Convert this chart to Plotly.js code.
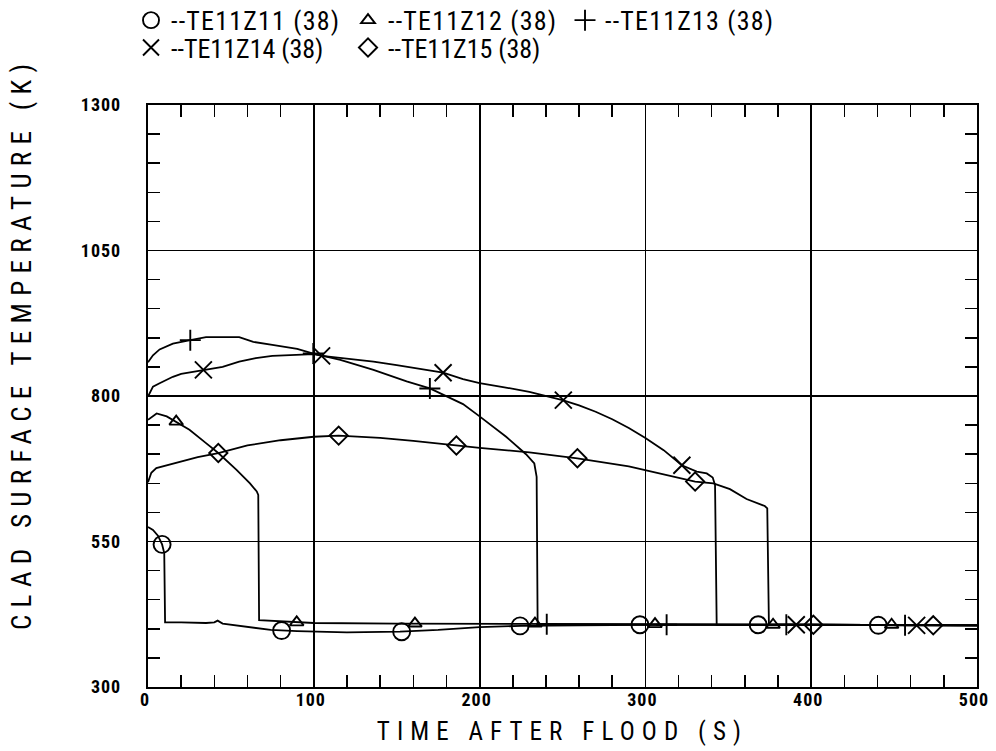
<!DOCTYPE html>
<html>
<head>
<meta charset="utf-8">
<script src="https://cdn.plot.ly/plotly-3.0.1.min.js"></script>
<style>
  body { margin: 0; background: #ffffff; }
  #chart { width: 996px; height: 751px; }
  .xtitle { letter-spacing: 7.1px; }
  .annotation-text { letter-spacing: 7.3px; }
  .xtick text, .ytick text { letter-spacing: 1px; }
  .legendtext { letter-spacing: 1.2px; }
</style>
</head>
<body>
<div id="chart"></div>
<script>
// ---- data ----
const seriesNames = ['--TE11Z11 (38)', '--TE11Z12 (38)', '--TE11Z13 (38)', '--TE11Z14 (38)', '--TE11Z15 (38)'];

const z11Time = [0, 3, 6, 8.5, 9.8, 10.3, 20, 35, 40, 42, 45, 60, 74, 90, 100, 120, 152, 175, 200, 225, 260, 300, 400, 500];
const z11Temp = [575, 570, 560, 545, 530, 411, 411, 410, 411, 414, 409, 403, 398, 396, 395, 394, 395, 398, 403, 405, 406, 407, 407, 406];
const z11MarkTime = [8.5, 80.6, 153, 224.4, 296.7, 368, 440.5];
const z11MarkTemp = [545, 397, 395, 405, 407, 407, 406];

const z12Time = [0, 5.2, 11.3, 17, 25, 35, 42.4, 53.4, 61.5, 65.6, 66.5, 67, 80, 100, 150, 200, 300, 400, 500];
const z12Temp = [759, 770, 765, 756, 742, 719, 702, 673, 650, 636, 630, 415, 413, 410, 409, 409, 408, 407, 406];
const z12MarkTime = [17, 89.7, 161, 233.4, 305.8, 377, 448.5];
const z12MarkTemp = [756, 411, 409, 409, 408, 407, 407];

const z13Time = [0, 3, 7, 15, 25.5, 35, 55, 63.5, 75, 90, 99.7, 116, 136, 156, 170, 182, 190, 200, 208, 216, 228, 233, 234.4, 235, 250, 300, 400, 500];
const z13Temp = [858, 870, 880, 890, 896, 901, 901, 893, 888, 881, 873, 862, 845, 825, 813, 796, 786, 765, 748, 730, 700, 684, 661, 408, 408, 407, 407, 406];
const z13MarkTime = [25.5, 99.7, 170, 240.5, 312.8, 385, 456.6];
const z13MarkTemp = [896, 873, 813, 408, 407, 407, 406];

const z14Time = [0, 3, 7, 15, 20, 33.4, 45, 55, 65, 75, 86, 100, 105, 120, 136, 150, 170, 178, 190, 200, 215, 230, 250, 260, 270, 280, 290, 300, 311, 322, 331, 337, 340.6, 342, 343, 360, 400, 500];
const z14Temp = [799, 816, 822, 833, 838, 845, 850, 859, 865, 869, 870, 872, 869, 864, 859, 853, 843, 840, 829, 822, 815, 807, 793, 784, 773, 760, 745, 728, 707, 681, 670, 667, 660, 647, 407, 407, 407, 406];
const z14MarkTime = [33.4, 104.7, 178, 250.5, 322, 391, 463.6];
const z14MarkTemp = [845, 869, 840, 793, 681, 407, 406];

const z15Time = [0, 2, 5, 10, 20, 30, 42.4, 60, 80, 100, 115, 140, 160, 186, 200, 230, 259, 290, 315, 330, 341, 351, 361, 372, 373.5, 374.5, 400, 500];
const z15Temp = [652, 668, 676, 680, 688, 695, 702, 715, 724, 730, 732, 728, 723, 715, 711, 703, 693, 679, 663, 653, 650, 640, 623, 611, 607, 407, 407, 406];
const z15MarkTime = [42.4, 115, 186, 259, 330, 401.3, 473.6];
const z15MarkTemp = [702, 732, 715, 693, 653, 407, 406];

const xTickVals = [0, 100, 200, 300, 400, 500];
const yTickVals = [300, 550, 800, 1050, 1300];
const xTitle = 'TIME AFTER FLOOD (S)';
const yTitle = 'CLAD SURFACE TEMPERATURE (K)';

// ---- styling ----
const FONT = '"Roboto Condensed", "DejaVu Sans Condensed", sans-serif';
const symbols = ['circle-open', 'triangle-up-open', 'cross-thin-open', 'x-thin-open', 'diamond-open'];
const sizes = [17, 12, 15, 17, 14];
const legendIds = ['legend', 'legend', 'legend', 'legend2', 'legend2'];

const lineSets = [[z11Time, z11Temp], [z12Time, z12Temp], [z13Time, z13Temp], [z14Time, z14Temp], [z15Time, z15Temp]];
const markSets = [[z11MarkTime, z11MarkTemp], [z12MarkTime, z12MarkTemp], [z13MarkTime, z13MarkTemp], [z14MarkTime, z14MarkTemp], [z15MarkTime, z15MarkTemp]];

const traces = [];
lineSets.forEach((s) => {
  traces.push({ x: s[0], y: s[1], type: 'scatter', mode: 'lines',
    line: { color: '#000', width: 1.8 }, showlegend: false, hoverinfo: 'skip' });
});
markSets.forEach((s, i) => {
  traces.push({ x: s[0], y: s[1], type: 'scatter', mode: 'markers',
    name: seriesNames[i], legend: legendIds[i],
    marker: { symbol: symbols[i], size: sizes[i], color: '#000', line: { color: '#000', width: 1.9 } } });
});

const tickCommon = {
  ticks: 'inside', ticklen: 12, tickwidth: 1.5, tickcolor: '#000',
  showline: true, linecolor: '#000', linewidth: 2.2, mirror: 'allticks',
  showgrid: true, gridcolor: '#000', gridwidth: 1.8, zeroline: false,
  ticklabeloverflow: 'allow',
  tickfont: { family: FONT, size: 18, color: '#000', weight: 'bold' }
};

const legendCommon = {
  orientation: 'h', xanchor: 'left', yanchor: 'top', x: -0.0205,
  entrywidth: 172, entrywidthmode: 'pixels', itemwidth: 30,
  font: { family: FONT, size: 26, color: '#000' }, bgcolor: 'rgba(0,0,0,0)',
  traceorder: 'normal'
};

const layout = {
  width: 996, height: 751,
  margin: { l: 148, r: 19, t: 105, b: 64, pad: 0, autoexpand: false },
  paper_bgcolor: '#fff', plot_bgcolor: '#fff',
  font: { family: FONT, color: '#000' },
  showlegend: true,
  xaxis: Object.assign({}, tickCommon, {
    range: [0, 500], tickmode: 'array', tickvals: xTickVals, ticklabelshift: -3, ticklabelstandoff: -5,
    minor: { dtick: 20, tick0: 0, ticks: 'inside', ticklen: 12, tickwidth: 1.5, tickcolor: '#000', showgrid: false },
    title: { text: xTitle, font: { family: FONT, size: 25, color: '#000' }, standoff: 14 },
    automargin: false
  }),
  yaxis: Object.assign({}, tickCommon, {
    range: [300, 1300], tickmode: 'array', tickvals: yTickVals,
    minor: { dtick: 50, tick0: 300, ticks: 'inside', ticklen: 12, tickwidth: 1.5, tickcolor: '#000', showgrid: false },
    ticklabelstandoff: 21, automargin: false
  }),
  legend: Object.assign({}, legendCommon, { y: 1.186 }),
  legend2: Object.assign({}, legendCommon, { y: 1.139 }),
  annotations: [{
    text: yTitle, textangle: -90, xref: 'paper', yref: 'paper',
    x: -0.152, y: 0.591, xanchor: 'center', yanchor: 'middle', showarrow: false,
    font: { family: FONT, size: 27, color: '#000' }
  }]
};

Plotly.newPlot('chart', traces, layout, { displayModeBar: false, staticPlot: true });
</script>
</body>
</html>
